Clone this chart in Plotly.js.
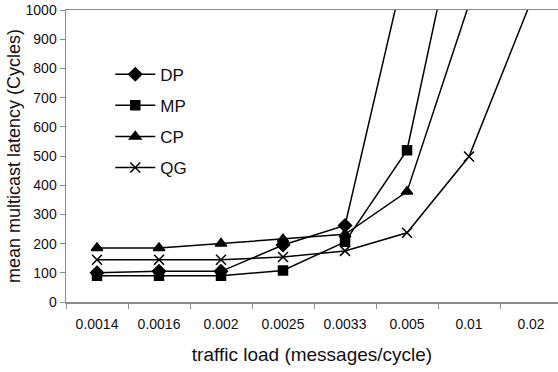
<!DOCTYPE html>
<html>
<head>
<meta charset="utf-8">
<script src="https://cdn.plot.ly/plotly-3.0.1.min.js"></script>
<style>
  html, body { margin: 0; padding: 0; background: #fff; }
  #chart { width: 558px; height: 372px; }
</style>
</head>
<body>
<div id="chart"></div>
<script>
// Offered traffic load (messages/cycle), one category per tick
const loads = ['0.0014', '0.0016', '0.002', '0.0025', '0.0033', '0.005', '0.01', '0.02'];

// Mean multicast latency (cycles) per scheme; values past 1000 run off the top
const dpLatency = [100, 105, 105, 195, 262, 1175];
const mpLatency = [90, 90, 90, 108, 206, 520, 1510];
const cpLatency = [185, 185, 200, 215, 232, 378, 1020];
const qgLatency = [145, 145, 145, 154, 175, 237, 498, 1030];

const yTicks = [0, 100, 200, 300, 400, 500, 600, 700, 800, 900, 1000];

const FONT = 'Liberation Sans, Arial, sans-serif';

function series(name, values, symbol, size, group) {
  return {
    type: 'scatter',
    mode: 'lines+markers',
    name: name,
    legendgroup: group,
    x: loads.slice(0, values.length),
    y: values,
    line: { color: '#000', width: 1.5 },
    marker: { symbol: symbol, size: size, color: '#000', line: { color: '#000', width: 1.5 } },
    cliponaxis: true
  };
}

const traces = [
  series('DP', dpLatency, 'diamond', 10, 'a'),
  series('MP', mpLatency, 'square', 9, 'b'),
  series('CP', cpLatency, 'triangle-up', 10, 'c'),
  series('QG', qgLatency, 'x-thin', 10, 'd')
];

const layout = {
  width: 558,
  height: 372,
  margin: { l: 66, r: 0, t: 10, b: 70 },
  paper_bgcolor: '#fff',
  plot_bgcolor: '#fff',
  font: { family: FONT, color: '#111' },
  showlegend: true,
  legend: {
    x: 0.09, y: 0.84, xanchor: 'left', yanchor: 'top',
    bgcolor: 'rgba(0,0,0,0)',
    font: { family: FONT, size: 17, color: '#111' },
    traceorder: 'grouped',
    tracegroupgap: 6,
    itemwidth: 40
  },
  xaxis: {
    type: 'category',
    categoryorder: 'array',
    categoryarray: loads,
    range: [-0.5, 7.435],
    tickson: 'boundaries',
    ticks: 'outside',
    ticklen: 5,
    tickcolor: '#8c8c8c',
    ticklabelstandoff: 9,
    showline: true,
    linecolor: '#8c8c8c',
    linewidth: 1.5,
    mirror: true,
    showgrid: false,
    zeroline: false,
    tickfont: { family: FONT, size: 14, color: '#111' },
    title: { text: 'traffic load (messages/cycle)', font: { family: FONT, size: 19, color: '#111' }, standoff: 16 }
  },
  yaxis: {
    range: [0, 1000],
    tickvals: yTicks,
    ticks: 'outside',
    ticklen: 5,
    tickcolor: '#8c8c8c',
    showline: true,
    linecolor: '#8c8c8c',
    linewidth: 1.5,
    showgrid: false,
    zeroline: false,
    tickfont: { family: FONT, size: 14, color: '#111' },
    title: { text: 'mean multicast latency (Cycles)', font: { family: FONT, size: 18, color: '#111' }, standoff: 0 }
  }
};

Plotly.newPlot('chart', traces, layout, { displayModeBar: false, staticPlot: true });
</script>
</body>
</html>
